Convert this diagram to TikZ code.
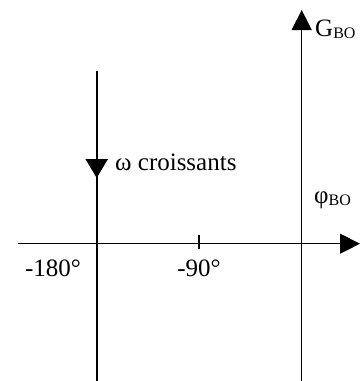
\documentclass[tikz,border=0pt]{standalone}
\usepackage{fontspec}
\setmainfont{Liberation Serif}
\usetikzlibrary{arrows.meta}
\newcommand{\sbo}{\raisebox{-0.1em}{\fontsize{16}{16}\selectfont BO}}
\tikzset{
  axis/.style={line width=1.3pt},
  thickline/.style={line width=2pt},
  tip/.style={-{Triangle[length=20pt,width=20pt]}},
  lbl/.style={inner sep=0pt, font=\fontsize{25}{25}\selectfont}
}
\begin{document}
\begin{tikzpicture}[x=1pt,y=-1pt]
\useasboundingbox (0,0) rectangle (363,381);
% coordinates
\coordinate (hs) at (18,243.7);
\coordinate (he) at (360,243.7);
\coordinate (vs) at (301.7,381);
\coordinate (ve) at (301.7,10);
\coordinate (ls) at (96.7,70.7);
\coordinate (le) at (96.7,381);
\coordinate (am) at (96.7,150);
\coordinate (at) at (96.7,178);
\coordinate (t1) at (199,235);
\coordinate (t2) at (199,249);
% axes
\draw[axis,tip] (hs) -- (he);
\draw[axis,tip] (vs) -- (ve);
\draw[thickline] (ls) -- (le);
\draw[thickline,-{Triangle[length=19pt,width=22pt]}] (am) -- (at);
\draw[axis] (t1) -- (t2);
% labels
\node[lbl,anchor=base] (m180) at (53,276.5) {-180°};
\node[lbl,anchor=base] (m90) at (199,276.5) {-90°};
\node[lbl,anchor=base west] (omega) at (115,170) {ω croissants};
\node[lbl,anchor=base west] (gbo) at (315,36) {G\sbo};
\node[lbl,anchor=base west] (phibo) at (314,203.3) {φ\sbo};
\end{tikzpicture}
\end{document}
